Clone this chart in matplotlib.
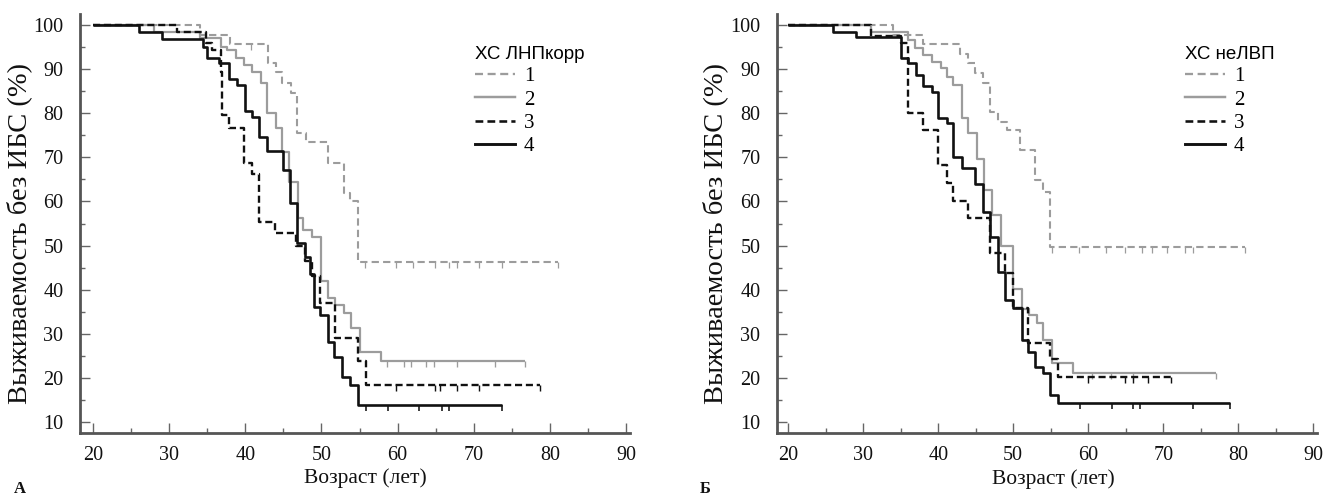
import numpy as np
import matplotlib
matplotlib.use("Agg")
import matplotlib.pyplot as plt
from matplotlib.lines import Line2D

# ---------------- data (age in years, survival in %) ----------------
# Panel A: ХС ЛНПкорр
a1_t = [20, 34, 38, 43, 44, 44.8, 46, 46.8, 48, 50.9, 52.9, 53.8, 54.8]
a1_s = [100, 97.7, 95.7, 91.4, 89.3, 86.8, 84.6, 75.6, 73.4, 68.8, 62, 60, 46.3]
a1_end = 81
a1_cens = [40.7, 55.7, 59.8, 62, 64.9, 66.8, 67.8, 70.7, 73.7, 81]

a2_t = [20, 28, 34, 36.8, 37.6, 38.8, 39.8, 40.9, 42, 42.8, 44, 44.8, 45.8, 46.9,
        47.6, 48.7, 49.9, 50.9, 51.8, 52.9, 53.9, 55, 57.8]
a2_s = [100, 98.5, 97, 95, 94.3, 92.5, 90.9, 89.3, 86.8, 80, 76.6, 71.2, 64.4, 56.2,
        53.5, 52, 42, 38.2, 36.5, 34.6, 31.3, 25.8, 23.8]
a2_end = 76.7
a2_cens = [58.6, 60.8, 61.7, 63.7, 64.8, 67.8, 72.8, 76.7]

a3_t = [20, 31, 34.9, 35.6, 36.8, 37.0, 37.9, 39.8, 40.9, 41.8, 43.9, 46.6, 47.9,
        48.7, 49.8, 51.8, 54.8, 55.9]
a3_s = [100, 98.5, 96, 94.3, 89.3, 79.6, 76.6, 68.7, 66.2, 55.3, 52.8, 50, 46.5,
        43, 37, 29, 23.8, 18.4]
a3_end = 78.7
a3_cens = [59.8, 64.9, 65.6, 67.8, 70.7, 78.7]

a4_t = [20, 26, 29, 34.5, 35, 36.6, 37.9, 38.9, 39.9, 40.9, 41.8, 42.8, 45, 45.9,
        46.8, 47.8, 48.5, 49.0, 49.8, 50.8, 51.7, 52.7, 53.8, 54.8]
a4_s = [100, 98.4, 96.8, 95, 92.5, 91.4, 87.8, 86.4, 80.5, 79.1, 74.6, 71.4, 67.1, 59.6,
        50.6, 47.5, 43.5, 36, 34.2, 28.1, 24.7, 20.2, 18.4, 13.9]
a4_end = 73.7
a4_cens = [55.8, 58.7, 62.8, 65.8, 66.8, 73.7]

# Panel Б: ХС неЛВП
b1_t = [20, 34, 38, 42.9, 44, 44.9, 46, 46.9, 48, 49.2, 50.9, 52.9, 53.9, 54.9]
b1_s = [100, 97.7, 95.7, 93.4, 91.4, 89.1, 86.8, 80.3, 78, 76.2, 71.7, 64.8, 62.1, 49.7]
b1_end = 80.9
b1_cens = [55.2, 58.7, 62.3, 64.9, 67.2, 68.5, 70.5, 72.9, 73.9, 80.9]

b2_t = [20, 31, 36, 36.9, 38, 39.2, 40.3, 41.2, 42, 43.2, 44, 45.2, 46.1, 47.2, 48.3,
        49.9, 51.1, 52.1, 53.2, 54, 55.2, 58]
b2_s = [100, 98.5, 96.6, 94.8, 93.2, 91.6, 90.2, 88.2, 86.4, 78.9, 75.5, 69.6, 62.7, 57,
        50, 40.1, 35.6, 34.2, 32.4, 28.6, 23.4, 21.1]
b2_end = 77
b2_cens = [60.5, 63, 66, 77]

b3_t = [20, 31, 35, 36, 38, 40, 41.2, 42, 44, 46.9, 48.9, 50, 51.9, 54.9, 56]
b3_s = [100, 97.5, 95.9, 80, 76.2, 68.3, 64.2, 60, 56.2, 48.3, 43.8, 35.8, 28, 24.3, 20.2]
b3_end = 71
b3_cens = [59.9, 64.9, 66, 67.9, 71]

b4_t = [20, 26, 29, 35, 36, 37, 38, 39.2, 40, 41.2, 42, 43.2, 44.9, 46, 46.9, 47.9,
        48.9, 49.9, 51.1, 52, 52.9, 54, 54.9, 56]
b4_s = [100, 98.5, 97.3, 92.5, 91.5, 88.7, 86.2, 84.8, 78.9, 77.7, 70.1, 67.5, 63.9, 57.6,
        51.9, 44, 37.6, 35.8, 28.6, 25.8, 22.4, 21.1, 16.1, 14.3]
b4_end = 78.9
b4_cens = [58.9, 63.2, 66, 66.9, 74, 78.9]

group_labels = ["1", "2", "3", "4"]
legend_titles = ["ХС ЛНПкорр", "ХС неЛВП"]
panel_letters = ["А", "Б"]
x_label = "Возраст (лет)"
y_label = "Выживаемость без ИБС (%)"
x_ticks = [20, 30, 40, 50, 60, 70, 80, 90]
y_ticks = [10, 20, 30, 40, 50, 60, 70, 80, 90, 100]

panels = [
    [(a1_t, a1_s, a1_end, a1_cens), (a2_t, a2_s, a2_end, a2_cens),
     (a3_t, a3_s, a3_end, a3_cens), (a4_t, a4_s, a4_end, a4_cens)],
    [(b1_t, b1_s, b1_end, b1_cens), (b2_t, b2_s, b2_end, b2_cens),
     (b3_t, b3_s, b3_end, b3_cens), (b4_t, b4_s, b4_end, b4_cens)],
]

# ---------------- style ----------------
GREY = "#9c9c9c"
BLACK = "#111111"
styles = [
    dict(color=GREY, lw=1.5, dashes=(3.5, 2.0)),
    dict(color=GREY, lw=1.6, dashes=None),
    dict(color=BLACK, lw=1.7, dashes=(3.0, 1.6)),
    dict(color=BLACK, lw=1.9, dashes=None),
]
SERIF = ["Liberation Serif", "DejaVu Serif"]
SANS = ["Liberation Sans", "DejaVu Sans"]

W, H = 1323, 495
fig = plt.figure(figsize=(W / 100, H / 100), dpi=100)

ax_boxes = [
    (80 / W, 1 - 433 / H, 550 / W, (433 - 14) / H),
    (777 / W, 1 - 433 / H, 540 / W, (433 - 14) / H),
]
xlims = [(18.3, 90.5), (18.5, 90.5)]
legend_pos = [(475 / W, 1 - 46 / H), (1185 / W, 1 - 46 / H)]
xlabel_pos = [(365 / W, 1 - 478 / H), (1053 / W, 1 - 479 / H)]
ylabel_pos = [(19 / W, 1 - 234 / H), (715 / W, 1 - 234 / H)]
letter_pos = [(14 / W, 1 - 489 / H), (700 / W, 1 - 489 / H)]


def value_at(t, s, x):
    idx = np.searchsorted(np.asarray(t), x, side="right") - 1
    return np.asarray(s)[idx]


for p, curves in enumerate(panels):
    ax = fig.add_axes(ax_boxes[p])
    handles = []
    for (t, s, end, cens), st in zip(curves, styles):
        tt = list(t) + [end]
        ss = list(s) + [s[-1]]
        ln, = ax.step(tt, ss, where="post", color=st["color"], lw=st["lw"],
                      solid_capstyle="butt", dash_capstyle="butt")
        if st["dashes"] is not None:
            ln.set_dashes(st["dashes"])
        cy = value_at(t, s, np.asarray(cens))
        ax.vlines(cens, cy - 1.3, cy, color=st["color"], lw=st["lw"] * 0.6)
        h = Line2D([0], [0], color=st["color"], lw=st["lw"] * 1.1)
        if st["dashes"] is not None:
            h.set_dashes(st["dashes"])
        handles.append(h)

    ax.set_xlim(*xlims[p])
    ax.set_ylim(7.5, 102.5)
    for side in ("top", "right"):
        ax.spines[side].set_visible(False)
    for side in ("left", "bottom"):
        ax.spines[side].set_color("#555555")
        ax.spines[side].set_linewidth(2.0)
    ax.set_xticks(x_ticks)
    ax.set_xticks(np.arange(25, 90, 10), minor=True)
    ax.set_yticks(y_ticks)
    ax.set_yticks(np.arange(15, 100, 10), minor=True)
    ax.tick_params(which="major", direction="in", length=7, width=1.0, color="#666666",
                   labelsize=14.5, labelcolor="#111111")
    ax.tick_params(which="minor", direction="in", length=3.5, width=1.0, color="#666666")
    ax.tick_params(axis="y", which="major", pad=12)
    ax.tick_params(axis="x", which="major", pad=9)
    for lab in ax.get_xticklabels() + ax.get_yticklabels():
        lab.set_family(SERIF)

    leg = fig.legend(handles, group_labels, title=legend_titles[p], loc="upper left",
                     bbox_to_anchor=legend_pos[p], frameon=False,
                     prop=dict(family=SERIF, size=15),
                     title_fontproperties=dict(family=SANS, size=13.5),
                     handlelength=1.9, handletextpad=0.45, labelspacing=0.18,
                     borderpad=0, borderaxespad=0, alignment="left")

    fig.text(*xlabel_pos[p], x_label, ha="center", va="center", family=SERIF,
             fontsize=15.5, color="#111111")
    fig.text(*ylabel_pos[p], y_label, ha="center", va="center", rotation=90,
             family=SERIF, fontsize=20.5, color="#111111")
    fig.text(*letter_pos[p], panel_letters[p], ha="left", va="center", family=SERIF,
             fontsize=12, fontweight="bold", color="#111111")

fig.savefig("out.png", dpi=100)
